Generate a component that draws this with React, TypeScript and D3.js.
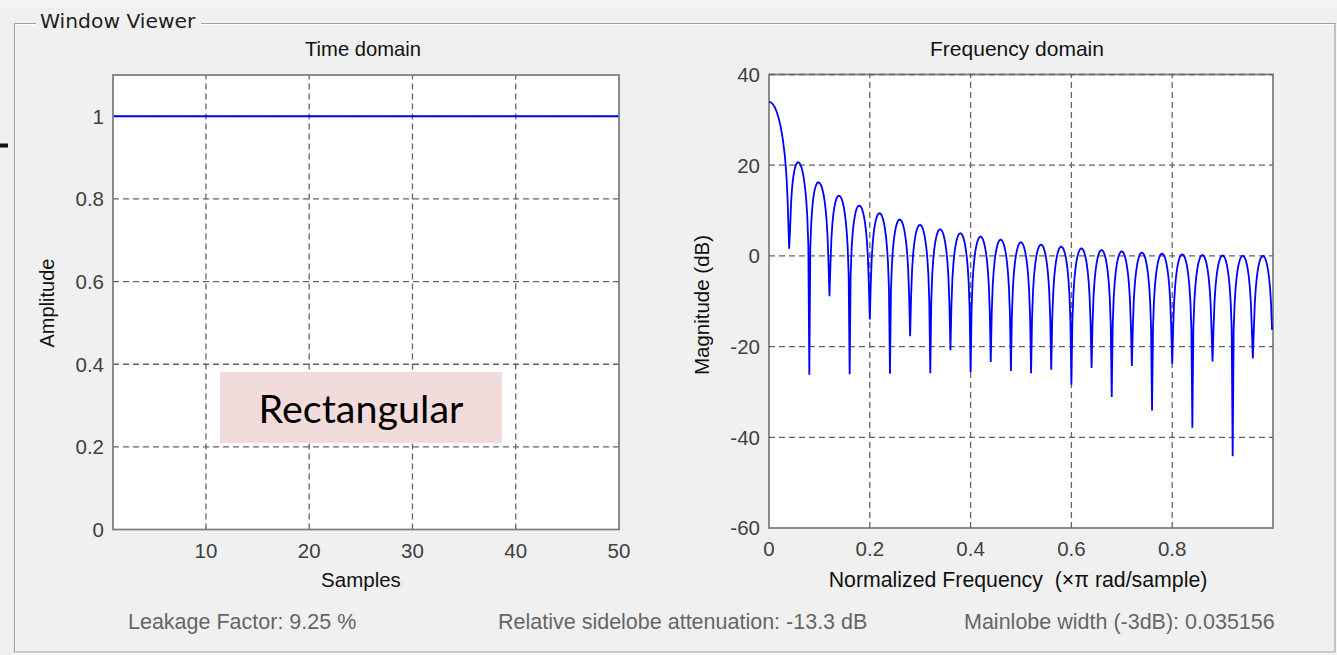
import React from 'react';
import * as d3 from 'd3';

const W = 1337;
const H = 655;

// ---------- Time domain data ----------
const sampleIndex = [
  1, 2, 3, 4, 5, 6, 7, 8, 9, 10, 11, 12, 13, 14, 15, 16, 17, 18, 19, 20, 21, 22, 23, 24, 25,
  26, 27, 28, 29, 30, 31, 32, 33, 34, 35, 36, 37, 38, 39, 40, 41, 42, 43, 44, 45, 46, 47, 48, 49, 50,
];
const windowAmplitude = [
  1, 1, 1, 1, 1, 1, 1, 1, 1, 1, 1, 1, 1, 1, 1, 1, 1, 1, 1, 1, 1, 1, 1, 1, 1,
  1, 1, 1, 1, 1, 1, 1, 1, 1, 1, 1, 1, 1, 1, 1, 1, 1, 1, 1, 1, 1, 1, 1, 1, 1,
];
const sampleTicks = [10, 20, 30, 40, 50];
const amplitudeTicks = [0, 0.2, 0.4, 0.6, 0.8, 1];
const amplitudeTickLabels = ['0', '0.2', '0.4', '0.6', '0.8', '1'];

// ---------- Frequency domain data ----------
const freqTicks = [0, 0.2, 0.4, 0.6, 0.8];
const freqTickLabels = ['0', '0.2', '0.4', '0.6', '0.8'];
const magTicks = [-60, -40, -20, 0, 20, 40];

// main lobe (normalized freq, dB)
const mainLobeFreq = [0, 0.0039, 0.0078, 0.0117, 0.0156, 0.0195, 0.0234, 0.0273, 0.0313, 0.0332, 0.0352, 0.0371];
const mainLobeDb = [33.98, 33.84, 33.43, 32.72, 31.68, 30.25, 28.36, 25.81, 22.23, 19.78, 16.56, 11.73];

// nulls between lobes: position and depth of the spike
const nullFreq = [
  0.04, 0.08, 0.12, 0.16, 0.2, 0.24, 0.28, 0.32, 0.36, 0.4, 0.44, 0.48,
  0.52, 0.56, 0.6, 0.64, 0.68, 0.72, 0.76, 0.8, 0.84, 0.88, 0.92, 0.96,
];
const nullDepthDb = [
  1.6, -26.2, -8.9, -26.1, -14.0, -26.0, -17.7, -25.9, -20.8, -25.6, -23.4, -25.4,
  -25.9, -25.1, -28.4, -24.7, -31.1, -24.3, -34.1, -23.8, -37.9, -23.3, -44.2, -22.6,
];
// sidelobe peak levels
const sidelobePeakDb = [
  20.53, 16.11, 13.23, 11.09, 9.4, 8.02, 6.86, 5.87, 5.0, 4.25, 3.59, 3.01,
  2.5, 2.05, 1.65, 1.3, 1.0, 0.74, 0.53, 0.35, 0.21, 0.11, 0.04, 0.0,
];
const freqEnd = 1;
// sidelobe profile: distance from a null (normalized freq) vs level below the lobe envelope (dB)
const lobeShapeOffset = [0.00195, 0.0039, 0.00586, 0.0078, 0.0098, 0.0117, 0.0137, 0.0156, 0.0176];
const lobeShapeDb = [-16.3, -10.4, -7.05, -4.79, -3.17, -1.98, -1.12, -0.52, -0.16];

// ---------- Text ----------
const infoTexts = [
  { text: 'Leakage Factor: 9.25 %', x: 128 },
  { text: 'Relative sidelobe attenuation: -13.3 dB', x: 498 },
  { text: 'Mainlobe width (-3dB): 0.035156', x: 964 },
];

const FONT = '"Liberation Sans", Arial, sans-serif';
const GRID = '#636363';
const BOX = '#7a7a7a';
const TICK_TXT = '#404040';

function buildSpectrum(): [number, number][] {
  const edges = [...nullFreq, freqEnd];
  const centers = sidelobePeakDb.map((_, i) => (edges[i] + edges[i + 1]) / 2);
  const envelope = d3.scaleLinear().domain(centers).range(sidelobePeakDb);
  const pts: [number, number][] = mainLobeFreq.map((f, i) => [f, mainLobeDb[i]]);
  sidelobePeakDb.forEach((peak, i) => {
    const left = edges[i];
    const right = edges[i + 1];
    pts.push([left, nullDepthDb[i]]);
    lobeShapeOffset.forEach((o, j) => {
      const f = left + o;
      pts.push([f, envelope(f) + lobeShapeDb[j]]);
    });
    pts.push([centers[i], peak]);
    for (let j = lobeShapeOffset.length - 1; j >= 0; j--) {
      const f = right - lobeShapeOffset[j];
      pts.push([f, envelope(f) + lobeShapeDb[j]]);
    }
  });
  return pts;
}

export default function App() {
  // left axes
  const L = { x0: 113, x1: 619, y0: 529.5, y1: 75 };
  const xT = d3.scaleLinear().domain([1, 50]).range([L.x0, L.x1]);
  const yT = d3.scaleLinear().domain([0, 1.1]).range([L.y0, L.y1]);
  // right axes
  const R = { x0: 769, x1: 1273, y0: 528, y1: 74.5 };
  const xF = d3.scaleLinear().domain([0, 1]).range([R.x0, R.x1]);
  const yF = d3.scaleLinear().domain([-60, 40]).range([R.y0, R.y1]);

  const timeLine = d3
    .line<number>()
    .x((_, i) => xT(sampleIndex[i]))
    .y((d) => yT(d))(windowAmplitude) as string;

  const spectrum = buildSpectrum();
  const specLine = d3
    .line<[number, number]>()
    .x((d) => xF(d[0]))
    .y((d) => yF(d[1]))(spectrum) as string;

  return (
    <div style={{ position: 'absolute', left: 0, top: 0 }}>
      <svg width={W} height={H} style={{ display: 'block', fontFamily: FONT }}>
        <defs>
          <clipPath id="clipF">
            <rect x={R.x0} y={R.y1} width={R.x1 - R.x0} height={R.y0 - R.y1} />
          </clipPath>
        </defs>
        <rect x={0} y={0} width={W} height={H} fill="#f0f0f0" />
        <rect x={0} y={0} width={W} height={8} fill="#f4f4f4" />
        <rect x={0} y={143.5} width={8} height={4} fill="#111" />

        {/* group box */}
        <g fill="none">
          <path d="M36,24.5 H15.5 V653 H1336 V24.5 H201" stroke="#ffffff" strokeWidth={1} />
          <path d="M36,23.5 H14.5 V652 H1335 V23.5 H201" stroke="#a0a0a0" strokeWidth={1.2} />
        </g>
        <text x={40} y={28} fontSize={20.3} fill="#1e1e1e" fontFamily='"DejaVu Sans", sans-serif'>Window Viewer</text>

        {/* ===== Time domain axes ===== */}
        <rect x={L.x0} y={L.y1} width={L.x1 - L.x0} height={L.y0 - L.y1} fill="#fff" />
        <g stroke={GRID} strokeWidth={1.3} strokeDasharray="6 4">
          {sampleTicks.filter((t) => t < 50).map((t) => (
            <line key={'gx' + t} x1={xT(t)} x2={xT(t)} y1={L.y0} y2={L.y1} />
          ))}
          {amplitudeTicks.filter((t) => t > 0).map((t) => (
            <line key={'gy' + t} x1={L.x0} x2={L.x1} y1={yT(t)} y2={yT(t)} />
          ))}
        </g>
        <path d={timeLine} fill="none" stroke="#0000ff" strokeWidth={2} />
        <rect x={L.x0} y={L.y1} width={L.x1 - L.x0} height={L.y0 - L.y1} fill="none" stroke={BOX} strokeWidth={1.7} />
        <g fontSize={20.5} fill={TICK_TXT}>
          {amplitudeTicks.map((t, i) => (
            <text key={'ly' + t} x={104} y={yT(t)} dy="0.36em" textAnchor="end">
              {amplitudeTickLabels[i]}
            </text>
          ))}
          {sampleTicks.map((t) => (
            <text key={'lx' + t} x={xT(t)} y={558} textAnchor="middle">
              {t}
            </text>
          ))}
        </g>
        <text x={363} y={56} fontSize={20.2} textAnchor="middle" fill="#111">Time domain</text>
        <text x={361} y={587} fontSize={20.5} textAnchor="middle" fill="#111">Samples</text>
        <text transform="translate(54,303) rotate(-90)" fontSize={20} textAnchor="middle" fill="#111">Amplitude</text>

        {/* Rectangular annotation */}
        <rect x={220} y={372} width={282} height={71} fill="#f2dcdb" />
        <text x={361} y={423} fontSize={39.5} textAnchor="middle" fill="#000" fontFamily='Lato, "Open Sans", sans-serif'>
          Rectangular
        </text>

        {/* ===== Frequency domain axes ===== */}
        <rect x={R.x0} y={R.y1} width={R.x1 - R.x0} height={R.y0 - R.y1} fill="#fff" />
        <rect x={R.x0} y={R.y1} width={R.x1 - R.x0} height={R.y0 - R.y1} fill="none" stroke={BOX} strokeWidth={1.7} />
        <g stroke={GRID} strokeWidth={1.3} strokeDasharray="6 4">
          {freqTicks.filter((t) => t > 0).map((t) => (
            <line key={'fx' + t} x1={xF(t)} x2={xF(t)} y1={R.y0} y2={R.y1} />
          ))}
          {magTicks.filter((t) => t > -60).map((t) => (
            <line key={'fy' + t} x1={R.x0} x2={R.x1} y1={yF(t)} y2={yF(t)} />
          ))}
        </g>
        <path d={specLine} fill="none" stroke="#0000ff" strokeWidth={1.8} clipPath="url(#clipF)" />
        <g fontSize={20.5} fill={TICK_TXT}>
          {magTicks.map((t) => (
            <text key={'my' + t} x={760} y={yF(t)} dy="0.36em" textAnchor="end">
              {t}
            </text>
          ))}
          {freqTicks.map((t, i) => (
            <text key={'mx' + t} x={xF(t)} y={556} textAnchor="middle">
              {freqTickLabels[i]}
            </text>
          ))}
        </g>
        <text x={1017} y={56} fontSize={21} textAnchor="middle" fill="#111">Frequency domain</text>
        <text x={1018} y={587} fontSize={21.3} textAnchor="middle" fill="#111" style={{ whiteSpace: 'pre' }}>
          {'Normalized Frequency  (\u00d7\u03c0 rad/sample)'}
        </text>
        <text transform="translate(709,305) rotate(-90)" fontSize={20.5} textAnchor="middle" fill="#111">
          Magnitude (dB)
        </text>

        {/* info line */}
        <g fontSize={21.5} fill="#666">
          {infoTexts.map((t) => (
            <text key={t.text} x={t.x} y={629}>
              {t.text}
            </text>
          ))}
        </g>
      </svg>
    </div>
  );
}
